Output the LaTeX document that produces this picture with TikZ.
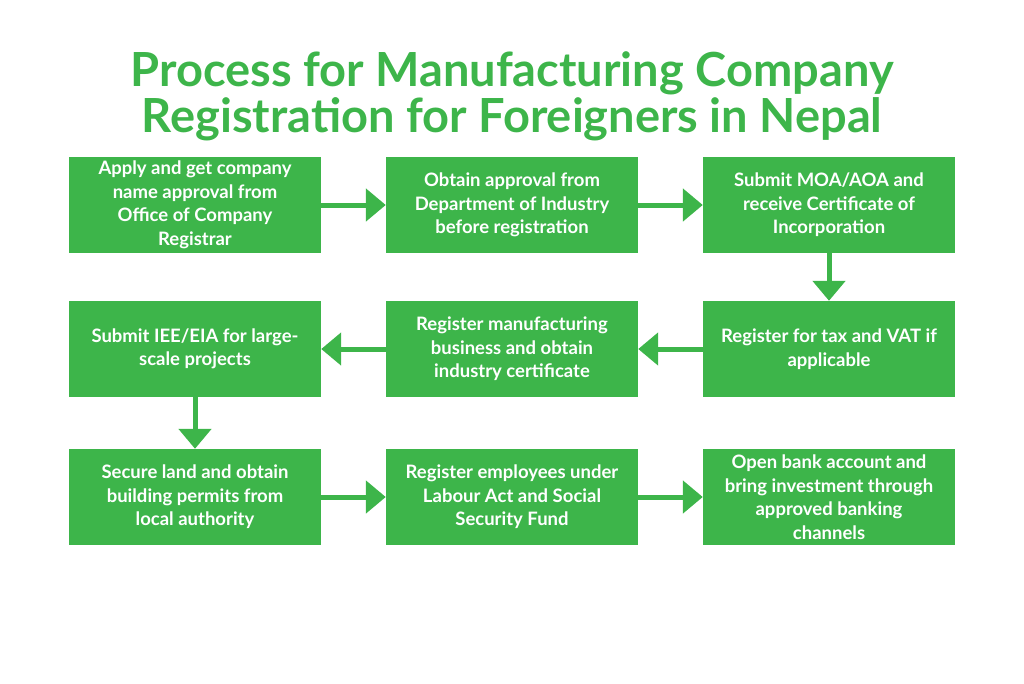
\documentclass[tikz,border=0pt]{standalone}
\usepackage{fontspec}
\setmainfont{Lato}
\usetikzlibrary{arrows.meta}
\definecolor{gr}{HTML}{3DB54A}
\begin{document}
\begin{tikzpicture}[x=1pt,y=1pt,
  box/.style={fill=gr,minimum width=252pt,minimum height=96pt,align=center,text=white,font=\fontsize{18.5}{23.5}\selectfont\bfseries},
  arr/.style={draw=gr,line width=5pt,-{Triangle[length=20pt,width=32pt]}}]
\useasboundingbox (0,0) rectangle (1024,-683);
\node[text=gr,font=\fontsize{47}{46}\selectfont\bfseries,align=center] (t) at (512,-96) {Process for Manufacturing Company\\Registration for Foreigners in Nepal};
\node[box] (a) at (195,-205) {Apply and get company\\name approval from\\Office of Company\\Registrar};
\node[box] (b) at (512,-205) {Obtain approval from\\Department of Industry\\before registration};
\node[box] (c) at (829,-205) {Submit MOA/AOA and\\receive Certificate of\\Incorporation};
\node[box] (d) at (829,-349) {Register for tax and VAT if\\applicable};
\node[box] (e) at (512,-349) {Register manufacturing\\business and obtain\\industry certificate};
\node[box] (f) at (195,-349) {Submit IEE/EIA for large-\\scale projects};
\node[box] (g) at (195,-497) {Secure land and obtain\\building permits from\\local authority};
\node[box] (h) at (512,-497) {Register employees under\\Labour Act and Social\\Security Fund};
\node[box] (i) at (829,-497) {Open bank account and\\bring investment through\\approved banking\\channels};
\draw[arr] (a) -- (b); \draw[arr] (b) -- (c);
\draw[arr] (c) -- (d); \draw[arr] (d) -- (e); \draw[arr] (e) -- (f);
\draw[arr] (f) -- (g); \draw[arr] (g) -- (h); \draw[arr] (h) -- (i);
\end{tikzpicture}
\end{document}
